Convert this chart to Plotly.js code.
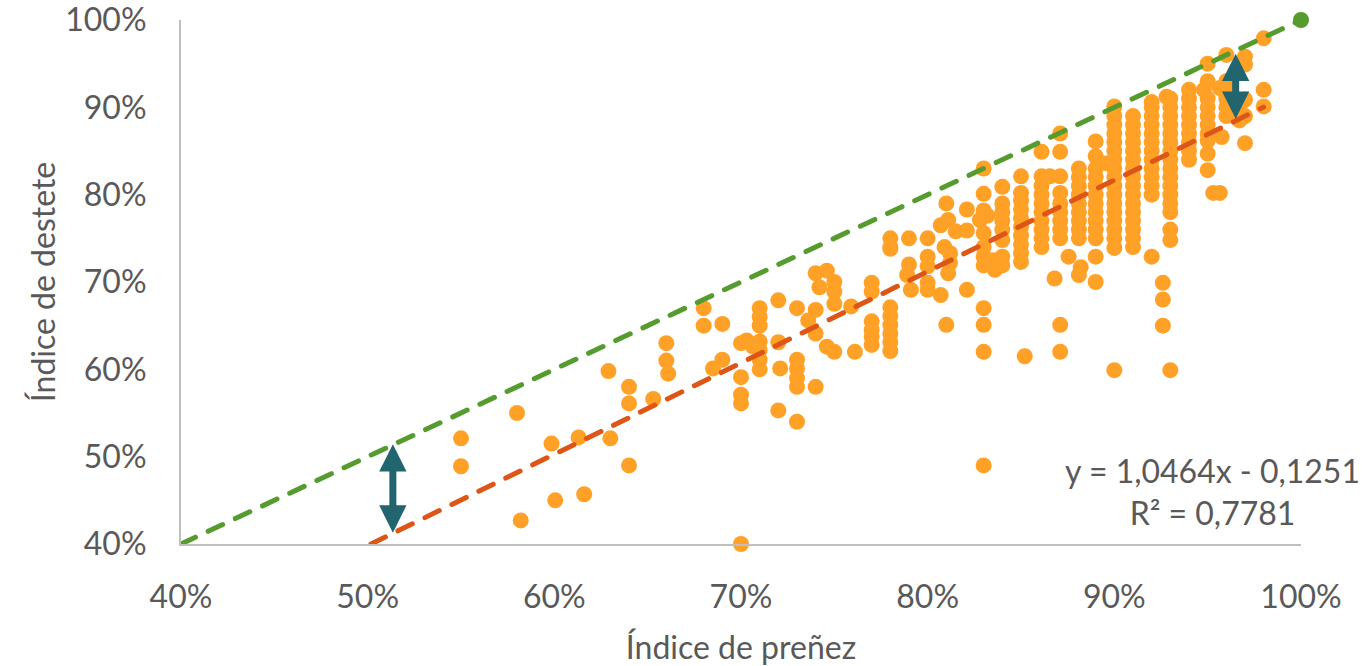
<!DOCTYPE html>
<html>
<head>
<meta charset="utf-8">
<script src="https://cdn.plot.ly/plotly-3.0.1.min.js"></script>
<style>
html,body{margin:0;padding:0;background:#fff;}
#chart{width:1369px;height:666px;}
#chart .scatterlayer .js-line{stroke-linecap:round;}
</style>
</head>
<body>
<div id="chart"></div>
<script>
// Índice de preñez (x, %) for each herd
const prenez = [
  55,55,58,58.2,59.85,60.05,61.6,61.3,63,64,62.9,64,64,65.3,66,66,66.1,
  68,68,69,69,68.5,70,70.3,70,70,70,70,71,71,71,71,71,71,71,70.65,72,72,72.1,72,73,73,73,73,73,73,
  74,74,74.6,74.2,75,75,75,74,73.6,74,74.6,75,76.1,75.9,77,77,77,77,77,77,
  78,78,78,78,78,78,78,78,78,79,78.9,79.1,79,80,80,80,80,80,80.7,80.7,
  81,81.1,81.5,80.9,81.2,81.2,81.1,81,82.1,82.1,82.1,
  83,83,83,82.8,83.2,83,83,83,83,83,83,83,83,83.6,83.5,
  84,84,84,84,84,84,84,84,
  85,85,85,85,85,85,85,85,85,85,85.2,
  86.1,86.1,86.1,86.1,86.1,86.1,86.1,86.1,86.1,86.1,86.55,
  87.1,87.1,87.1,87.1,87.1,87.1,87.1,87.1,87.1,87.1,87.1,86.8,87.55,
  88.1,88.1,88.1,88.1,88.1,88.1,88.1,88.1,88.1,88.2,88.1,
  89,89,89,89,89,89,89,89,89,89,89,89,89,89.6,
  90,90,90,90,90,90,90,90,90,90,90,90,90,90,90,90,90,90,
  91,91,91,91,91,91,91,91,91,91,91,91,91,91,91,91,
  92,92,92,92,92,92,92,92,92,92,92,92,92,92.8,92.6,92.6,92.6,
  93,93,93,93,93,93,93,93,93,93,93,93,93,93,93,93,93,
  94,94,94,94,94,94,94,94,94,94.8,
  95,95,95,95,95,95,95,95,95,95,95.3,95.65,95.65,95.75,
  96,96,96,96,96,96,
  97,97,97,97,97,96.7,96.7,
  98,98,98
];
// Índice de destete (y, %) for each herd
const destete = [
  52.1,48.9,55,42.7,51.5,45,45.7,52.2,52.1,49,59.8,58,56.1,56.6,63,61,59.5,
  67,65,65.2,61.1,60.1,63,63.3,59.1,57.1,56.1,40,67,66,65,63.2,62.2,61.1,60,62.6,67.9,63.1,60.1,55.3,67,61.1,60.1,59,58,54,
  58,71,71.3,69.4,70,68.9,67.5,66.8,65.6,64.1,62.6,62,62,67.2,69.9,68.9,65.5,64.5,63.7,62.8,
  67.1,66.1,65.1,64.1,63.1,62.1,73.8,75,74,72,70.8,69.1,75,75,72.9,71.8,69.9,69.1,68.5,76.5,
  79,77.1,75.8,74,73.3,72.2,71,65.1,78.3,75.9,69.1,
  83,80.1,78.2,77.1,77.6,75.6,74,72.9,71.9,67,65.1,62,49,71.4,72.5,
  80.9,79,78,77,76,74.8,72.9,71.9,
  82.1,80.2,79.3,78.3,77.3,76.3,75.3,74.3,73.3,72.3,61.5,
  84.9,82.1,81,80,79,78,77,76,75,74,82.1,
  87,84.9,82.1,80.2,79,78,77,76,75,65.1,62,70.4,72.9,
  83,82,81,80,79,78,77,76,75,71.7,70.8,
  86.1,84.4,83,82,81,80,79,78,77,76,75,72.9,70,83.6,
  90.1,89,88,87,86,85,84,83,82,81,80,79,78,77,76,75,73.9,59.9,
  89,88,87,86,85,84,83,82,81,80,79,78,77,76,75,74,
  90.6,90,89,88,87,86,85,84,83,82,81,80,72.9,91.2,69.9,68,65,
  91,90,89,88,87,86,85,84,83,82,81,80,79,78,76,74.8,59.9,
  92,91,90,89,88,87,86,85,84,92,
  95,93,91,90,89,88,87,86.2,84.7,82.8,80.2,80.2,92.2,86.6,
  96,93,92,91,90,89,
  95.8,94.9,90.9,89,85.9,90,88.5,
  97.9,92,90.1
];
// Reference line (destete = preñez)
const idealX = [40, 100];
const idealY = [40, 100];
// Linear trend: y = 1,0464x - 0,1251 (fractions)
const slope = 1.0464, intercept = -0.1251;
const trendXRange = [50.18, 98];
const trendX = trendXRange;
const trendY = trendXRange.map(v => (slope * v / 100 + intercept) * 100);
const eqText = 'y = 1,0464x - 0,1251<br>R² = 0,7781';
const xTitle = 'Índice de preñez';
const yTitle = 'Índice de destete';
const tickValues = [40, 50, 60, 70, 80, 90, 100];
const tickLabels = ['40%', '50%', '60%', '70%', '80%', '90%', '100%'];
// Gap arrows (x, top, bottom) in %
const gapArrows = [[51.35, 51.6, 41.3], [96.5, 96.3, 88.7]];

const FONT = 'Lato, "Open Sans", sans-serif';
const GRAY = '#595959';

const traces = [
  {x: prenez, y: destete, type: 'scatter', mode: 'markers',
   marker: {color: '#FFA126', size: 16}, cliponaxis: false, hoverinfo: 'x+y'},
  {x: idealX, y: idealY, type: 'scatter', mode: 'lines',
   line: {color: '#559B2E', width: 5, dash: '16px,14px'}},
  {x: [idealX[1]], y: [idealY[1]], type: 'scatter', mode: 'markers',
   marker: {color: '#559B2E', size: 16}, cliponaxis: false},
  {x: trendX, y: trendY, type: 'scatter', mode: 'lines',
   line: {color: '#DD5517', width: 5, dash: '16px,14px'}}
];

const annotations = gapArrows.map(a => ({
  x: a[0], y: a[2], ax: a[0], ay: a[1], xref: 'x', yref: 'y', axref: 'x', ayref: 'y',
  text: '', showarrow: true, arrowside: 'end+start', arrowhead: 2, startarrowhead: 2,
  arrowsize: 0.78, startarrowsize: 0.78, arrowwidth: 7, arrowcolor: '#22656F', standoff: 0, startstandoff: 0
}));
annotations.push({
  xref: 'paper', yref: 'paper', x: 0.921, y: 0.101, xanchor: 'center', yanchor: 'middle',
  text: eqText, showarrow: false, align: 'center', font: {family: FONT, size: 32, color: GRAY}
});

const axisCommon = {
  range: [40, 100], tickmode: 'array', tickvals: tickValues, ticktext: tickLabels,
  showgrid: false, zeroline: false, showline: true, linecolor: '#BFBFBF', linewidth: 2, ticks: '',
  ticklabeloverflow: 'allow',
  tickfont: {family: FONT, size: 32, color: GRAY}
};

const layout = {
  width: 1369, height: 666,
  margin: {l: 181, r: 68, t: 20, b: 122},
  paper_bgcolor: '#ffffff', plot_bgcolor: '#ffffff',
  showlegend: false,
  font: {family: FONT, size: 32, color: GRAY},
  xaxis: Object.assign({}, axisCommon, {ticklabelstandoff: 24,
          title: {text: xTitle, standoff: 24, font: {family: FONT, size: 32, color: GRAY}}}),
  yaxis: Object.assign({}, axisCommon, {ticklabelstandoff: 26,
          title: {text: yTitle, standoff: 0, font: {family: FONT, size: 32, color: GRAY}}}),
  annotations: annotations
};

Plotly.newPlot('chart', traces, layout, {displayModeBar: false, staticPlot: true});
</script>
</body>
</html>
